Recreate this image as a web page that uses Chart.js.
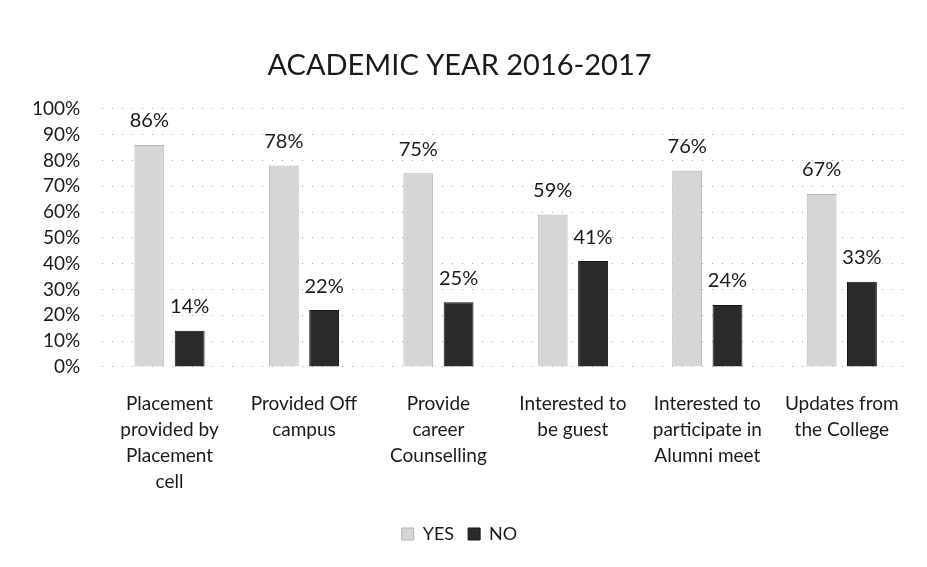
<!DOCTYPE html>
<html>
<head>
<meta charset="utf-8">
<script src="https://cdn.jsdelivr.net/npm/chart.js@4/dist/chart.umd.min.js"></script>
<style>
  html, body { margin: 0; padding: 0; background: #fff; }
  #wrap { width: 927px; height: 567px; position: relative; }
</style>
</head>
<body>
<div id="wrap"><canvas id="survey_chart"></canvas></div>
<script>
const categories = [
    ['Placement', 'provided by', 'Placement', 'cell'],
    ['Provided Off', 'campus'],
    ['Provide', 'career', 'Counselling'],
    ['Interested to', 'be guest'],
    ['Interested to', 'participate in', 'Alumni meet'],
    ['Updates from', 'the College']
];
const yesValues = [86, 78, 75, 59, 76, 67];
const noValues = [14, 22, 25, 41, 24, 33];
const yTicks = [0, 10, 20, 30, 40, 50, 60, 70, 80, 90, 100];

const FONT = 'Lato, "Open Sans", sans-serif';

// draw the % above each bar
const barLabels = {
    id: 'barLabels',
    afterDatasetsDraw(chart) {
        const ctx = chart.ctx;
        ctx.save();
        ctx.font = '20px ' + FONT;
        ctx.fillStyle = '#1a1a1a';
        ctx.textAlign = 'center';
        ctx.textBaseline = 'bottom';
        chart.data.datasets.forEach((ds, i) => {
            chart.getDatasetMeta(i).data.forEach((bar, j) => {
                ctx.fillText(ds.data[j] + '%', bar.x, bar.y - 14);
            });
        });
        ctx.restore();
    }
};

(function survey_chart()
{
    const sample = document.getElementById('survey_chart');
    const myChart = new Chart(sample, {
        type: 'bar',
        data: {
            labels: categories,
            datasets: [{
                label: 'YES',
                data: yesValues,
                backgroundColor: '#d6d6d6',
                borderColor: '#b4b4b4',
                borderWidth: 1,
                categoryPercentage: 0.6,
                barPercentage: 0.74
            }, {
                label: 'NO',
                data: noValues,
                backgroundColor: '#2a2a2a',
                borderColor: '#151515',
                borderWidth: 1,
                categoryPercentage: 0.6,
                barPercentage: 0.74
            }]
        },
        options: {
            responsive: true,
            maintainAspectRatio: false,
            animation: false,
            layout: {
                padding: { left: 10, right: 18, top: 14, bottom: 14 }
            },
            scales: {
                x: {
                    grid: { display: false },
                    border: { display: false },
                    ticks: {
                        color: '#1a1a1a',
                        font: { family: FONT, size: 19, lineHeight: 1.37 },
                        maxRotation: 0,
                        autoSkip: false,
                        padding: 16
                    }
                },
                y: {
                    min: 0,
                    max: 100,
                    afterBuildTicks: axis => {
                        axis.ticks = yTicks.map(v => ({ value: v }));
                    },
                    grid: {
                        color: '#a8a8a8',
                        tickLength: 0
                    },
                    border: { display: false, dash: [1, 9] },
                    ticks: {
                        color: '#1a1a1a',
                        font: { family: FONT, size: 19 },
                        padding: 22,
                        autoSkip: false,
                        callback: v => v + '%'
                    }
                }
            },
            plugins: {
                title: {
                    display: true,
                    text: 'ACADEMIC YEAR 2016-2017',
                    color: '#1a1a1a',
                    font: { family: FONT, size: 29, weight: 'normal' },
                    padding: { top: 34, bottom: 26 }
                },
                legend: {
                    position: 'bottom',
                    labels: {
                        color: '#1a1a1a',
                        font: { family: FONT, size: 18 },
                        boxWidth: 12,
                        boxHeight: 12,
                        padding: 14
                    }
                },
                tooltip: { enabled: false }
            }
        },
        plugins: [barLabels]
    });
})();
</script>
</body>
</html>
